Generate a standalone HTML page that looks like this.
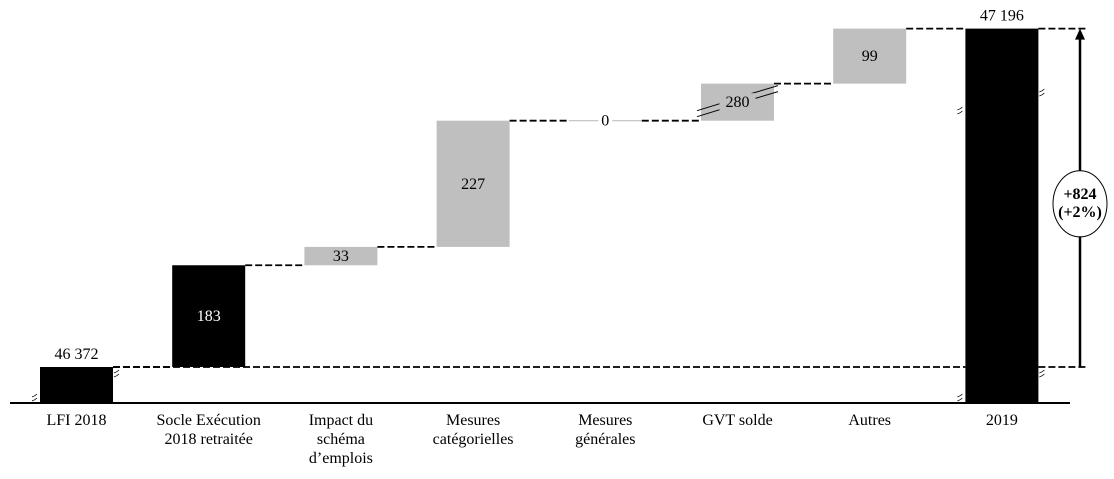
<!DOCTYPE html>
<html><head><meta charset="utf-8"><style>
html,body{margin:0;padding:0;background:#fff;}
svg{display:block;font-family:"Liberation Serif",serif;}
</style></head><body>
<svg id="c" width="1114" height="479"></svg>
<script>
const categories=[["LFI 2018"],["Socle Exécution","2018 retraitée"],["Impact du","schéma","d’emplois"],["Mesures","catégorielles"],["Mesures","générales"],["GVT solde"],["Autres"],["2019"]];
const startValue=46372;
const deltas=[183,33,227,0,280,99];
const endValue=47196;
const totalChangeLabel=["+824","(+2%)"];
const valueLabels=["46 372","183","33","227","0","280","99","47 196"];
const compressed=[false,false,false,false,true,false]; // broken-axis bars
const NS="http://www.w3.org/2000/svg";
const svg=document.getElementById("c");
function mk(t,a,p){const e=document.createElementNS(NS,t);for(const k in a)e.setAttribute(k,a[k]);(p||svg).appendChild(e);return e;}
const baseY=403, startY=367, s=0.556, breakFactor=0.238;
const x0=40, step=132.2, bw=73;
function bx(i){return x0+i*step;}
let a=mk("line",{x1:10,y1:baseY,x2:1070,y2:baseY,stroke:"#000","stroke-width":2});

let levels=[startY];let y=startY;
deltas.forEach((d,i)=>{y-=d*s*(compressed[i]?breakFactor:1);levels.push(y);});
const endY=y;
function dash(x1,x2,yy,nm){const l=mk("line",{x1:x1,y1:yy,x2:x2,y2:yy,stroke:"#000","stroke-width":1.8,"stroke-dasharray":"7,3"});}
function txt(x,yy,t,opt){const e=mk("text",Object.assign({x:x,y:yy,"text-anchor":"middle","font-size":16,fill:"#000"},opt||{}));e.textContent=t;return e;}
let r=mk("rect",{x:bx(0),y:startY,width:bw,height:baseY-startY,fill:"#000"});

let t=txt(bx(0)+bw/2,startY-8,valueLabels[0]);
deltas.forEach((d,i)=>{
  const k=i+1,top=levels[k],bot=levels[i],h=bot-top;
  const black=(i===0);
  if(d===0){
    const l=mk("line",{x1:bx(k),y1:top,x2:bx(k)+bw,y2:top,stroke:"#bfbfbf","stroke-width":1.2});
    
    mk("rect",{x:bx(k)+bw/2-7,y:top-9,width:14,height:18,fill:"#fff"});
  } else {
    const rr=mk("rect",{x:bx(k),y:top,width:bw,height:h,fill:black?"#000":"#bfbfbf"});
    
  }
  if(compressed[i]){
    for(const off of [0,6]){
      mk("line",{x1:bx(k)-4,y1:bot-4-off,x2:bx(k)+22,y2:bot-12-off,stroke:"#000","stroke-width":1});
      mk("line",{x1:bx(k)+50,y1:top+16-off,x2:bx(k)+bw+4,y2:top+8-off,stroke:"#000","stroke-width":1});
    }
    mk("rect",{x:bx(k)+bw/2-18,y:(top+bot)/2-9,width:36,height:18,fill:"#bfbfbf"});
  }
  const lt=txt(bx(k)+bw/2,(top+bot)/2+5,valueLabels[k],{fill:black?"#fff":"#000"});
  
  dash(bx(i)+bw,bx(k),bot,'connector-'+k);
});
dash(bx(6)+bw,bx(7),endY,'connector-7');
r=mk("rect",{x:bx(7),y:endY,width:bw,height:baseY-endY,fill:"#000"});

t=txt(bx(7)+bw/2,endY-8,valueLabels[7]);
dash(bx(0)+bw,bx(7),startY,'reference-line-start');
dash(bx(7)+bw,1086,startY,'reference-line-start-right');
dash(bx(7)+bw,1086,endY,'reference-line-end-right');
function brk(x,yy){for(const o of [0,4]){mk("path",{d:`M${x-2},${yy+o} q3,-1 5,-3`,stroke:"#000",fill:"none","stroke-width":0.8});}}
brk(bx(0)+bw+3,startY+6);brk(bx(0)-6,baseY-6);brk(bx(7)+bw+3,92);brk(bx(7)-6,110);brk(bx(7)+bw+3,startY+6);brk(bx(7)-6,baseY-6);
const ax=1080;
let ar=mk("line",{x1:ax,y1:startY,x2:ax,y2:endY+10,stroke:"#000","stroke-width":2.5});

mk("polygon",{points:`${ax-5},${endY+11} ${ax+5},${endY+11} ${ax},${endY}`,fill:"#000"});
const cy=(startY+endY)/2+6;
let el=mk("ellipse",{cx:ax,cy:cy,rx:27,ry:33,fill:"#fff",stroke:"#000","stroke-width":1});

t=txt(ax,cy-5,totalChangeLabel[0],{"font-weight":"bold"});
t=txt(ax,cy+13,totalChangeLabel[1],{"font-weight":"bold"});
categories.forEach((lines,i)=>{lines.forEach((ln,j)=>{const c=txt(bx(i)+bw/2,425+j*19,ln);
});});
</script>
</body></html>
